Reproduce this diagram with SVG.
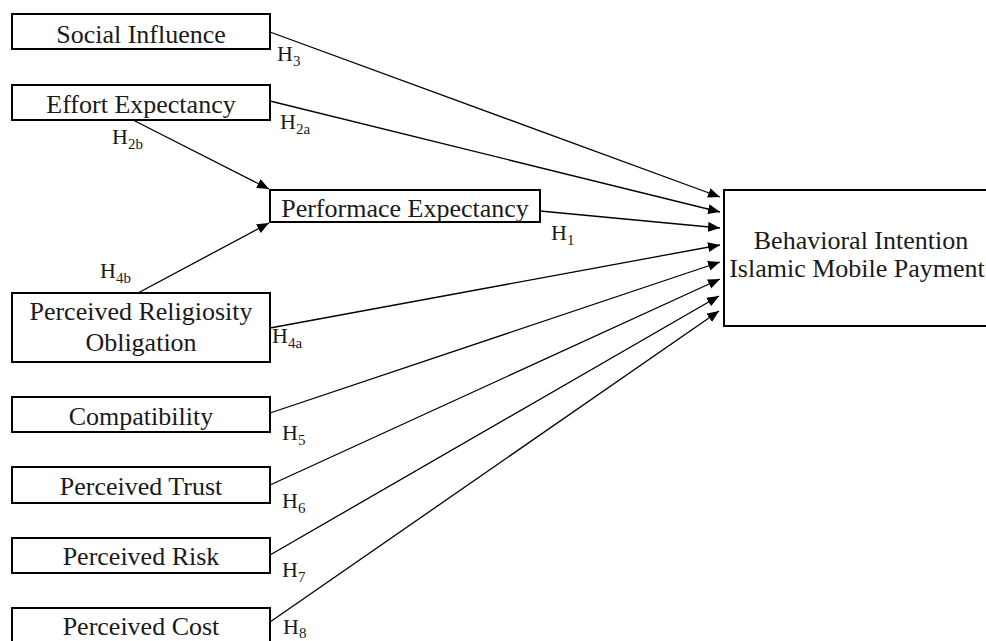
<svg xmlns="http://www.w3.org/2000/svg" width="986" height="641" viewBox="0 0 986 641">
<defs>
<marker id="ah" markerWidth="13" markerHeight="11" refX="12" refY="5" orient="auto" markerUnits="userSpaceOnUse">
<path d="M0,0 L12,5 L0,10 z" fill="#000"/>
</marker>
<style>
.box{fill:#fff;stroke:#000;stroke-width:2}
.t{font-family:"Liberation Serif","Times New Roman",serif;font-size:26px;fill:#1a1a1a;text-anchor:middle}
.h{font-family:"Liberation Serif","Times New Roman",serif;font-size:22px;fill:#1a1a1a}
.h tspan.s{font-size:15px}
.c line{stroke:#000;stroke-width:1.3;marker-end:url(#ah)}
</style>
</defs>
<rect width="986" height="641" fill="#fff"/>
<g class="c" id="connectors">
<line x1="270" y1="32" x2="720" y2="197"/>
<line x1="270" y1="101" x2="720" y2="212"/>
<line x1="540" y1="211" x2="720" y2="228"/>
<line x1="270" y1="328" x2="720" y2="245"/>
<line x1="270" y1="413" x2="720" y2="262"/>
<line x1="270" y1="485" x2="720" y2="279"/>
<line x1="270" y1="555" x2="719" y2="296"/>
<line x1="270" y1="622" x2="719" y2="311"/>
<line x1="133" y1="120" x2="269" y2="189"/>
<line x1="138" y1="293" x2="269" y2="223"/>
</g>
<g id="social"><rect class="box" x="12" y="14" width="258" height="35"/><text class="t" x="141" y="43">Social Influence</text></g>
<g id="effort"><rect class="box" x="12" y="85" width="258" height="35"/><text class="t" x="141" y="113">Effort Expectancy</text></g>
<g id="performance"><rect class="box" x="270" y="190" width="270" height="32"/><text class="t" x="405" y="217">Performace Expectancy</text></g>
<g id="religiosity"><rect class="box" x="12" y="293" width="258" height="69"/><text class="t" x="141" y="320">Perceived Religiosity</text><text class="t" x="141" y="351">Obligation</text></g>
<g id="compat"><rect class="box" x="12" y="397" width="258" height="35"/><text class="t" x="141" y="425">Compatibility</text></g>
<g id="trust"><rect class="box" x="12" y="467" width="258" height="36"/><text class="t" x="141" y="495">Perceived Trust</text></g>
<g id="risk"><rect class="box" x="12" y="538" width="258" height="35"/><text class="t" x="141" y="565">Perceived Risk</text></g>
<g id="cost"><rect class="box" x="12" y="608" width="258" height="45"/><text class="t" x="141" y="635">Perceived Cost</text></g>
<g id="intention"><rect class="box" x="724" y="190" width="300" height="136"/><text class="t" x="861" y="249">Behavioral Intention</text><text class="t" x="857" y="277">Islamic Mobile Payment</text></g>
<g id="labels">
<text class="h" x="277" y="61">H<tspan class="s" dy="5">3</tspan></text>
<text class="h" x="280" y="129">H<tspan class="s" dy="5">2a</tspan></text>
<text class="h" x="112" y="144">H<tspan class="s" dy="5">2b</tspan></text>
<text class="h" x="551" y="240">H<tspan class="s" dy="5">1</tspan></text>
<text class="h" x="100" y="278">H<tspan class="s" dy="5">4b</tspan></text>
<text class="h" x="272" y="343">H<tspan class="s" dy="5">4a</tspan></text>
<text class="h" x="282" y="440">H<tspan class="s" dy="5">5</tspan></text>
<text class="h" x="282" y="508">H<tspan class="s" dy="5">6</tspan></text>
<text class="h" x="282" y="577">H<tspan class="s" dy="5">7</tspan></text>
<text class="h" x="283" y="634">H<tspan class="s" dy="4">8</tspan></text>
</g>
</svg>
